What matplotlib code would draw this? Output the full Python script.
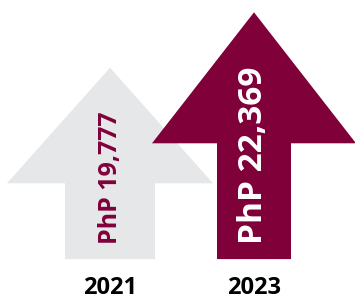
import matplotlib.pyplot as plt

# data
years = ['2021', '2023']
values = [19777, 22369]
value_labels = ['PhP 19,777', 'PhP 22,369']

# styling / layout
colors = ['#E6E7E8', '#80003A']
text_colors = ['#80003A', 'white']
centers = [110, 254]          # x position of each arrow
head_half = [103, 102]        # half width of arrow head
shaft_half = [45, 37]         # half width of shaft
head_len = [5410, 6130]       # head length in value units
text_sizes = [18, 24]
base = 10820                  # bottom of arrows

plt.rcParams['font.family'] = ['Open Sans', 'DejaVu Sans']
fig = plt.figure(figsize=(3.55, 3.0), dpi=100)
ax = fig.add_axes([0, 0, 1, 1])
ax.set_xlim(0, 355)
ax.set_ylim(8906, 22945)
ax.axis('off')

for i in range(len(values)):
    cx, top = centers[i], values[i]
    neck = top - head_len[i]
    xs = [cx - shaft_half[i], cx - shaft_half[i], cx - head_half[i], cx,
          cx + head_half[i], cx + shaft_half[i], cx + shaft_half[i]]
    ys = [base, neck, neck, top, neck, neck, base]
    ax.fill(xs, ys, color=colors[i], lw=0, zorder=i + 1)
    ax.annotate(value_labels[i], xy=(cx, base), xytext=(0, 11),
                textcoords='offset points', rotation=90, ha='center', va='bottom',
                fontsize=text_sizes[i], fontweight='bold', color=text_colors[i], zorder=5)
    ax.annotate(years[i], xy=(cx, base), xytext=(0, -25), textcoords='offset points',
                ha='center', va='baseline', fontsize=17, fontweight='bold', color='black')

fig.savefig('out.png', dpi=100)
